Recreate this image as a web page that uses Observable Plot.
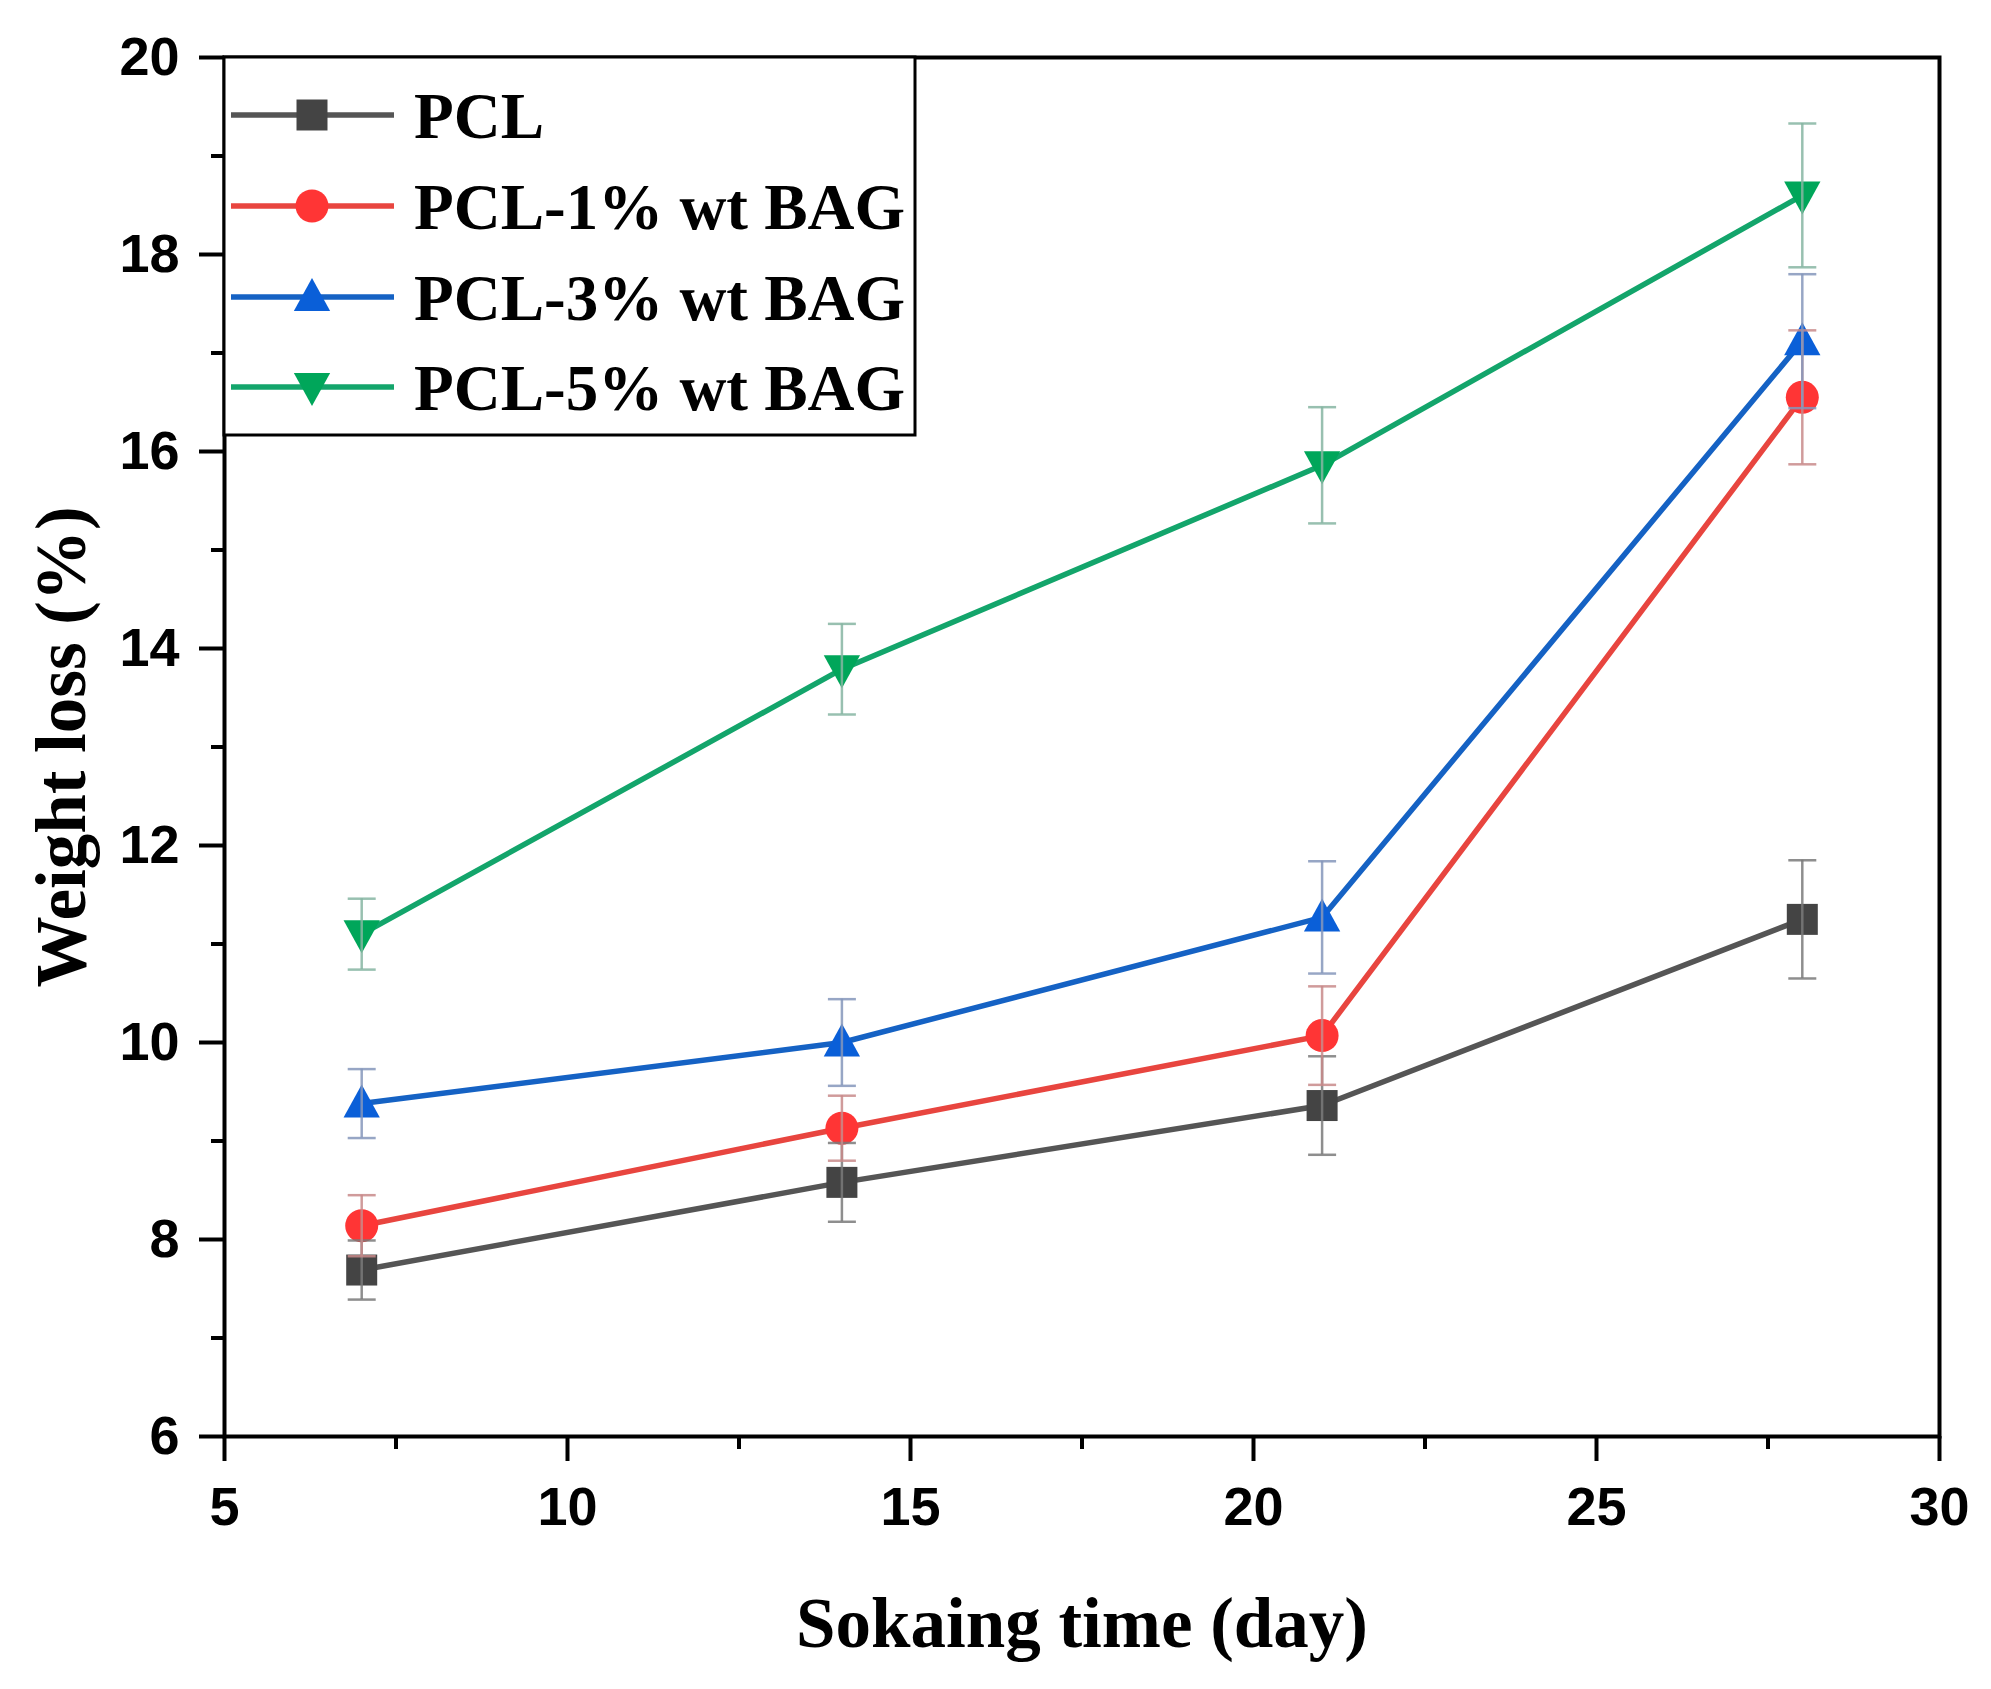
<!DOCTYPE html>
<html><head><meta charset="utf-8">
<script src="https://cdn.jsdelivr.net/npm/d3@7"></script>
<script src="https://cdn.jsdelivr.net/npm/@observablehq/plot@0.6"></script>
<style>
body{margin:0;background:#fff}
#chart{position:relative;width:1991px;height:1689px}
</style>
</head><body><div id="chart"></div>
<script>
// ---- data ----
const days = [7, 14, 21, 28];
const seriesNames = ["PCL", "PCL-1% wt BAG", "PCL-3% wt BAG", "PCL-5% wt BAG"];
const pclValues = [7.69, 8.58, 9.36, 11.25];
const pcl1Values = [8.14, 9.13, 10.07, 16.55];
const pcl3Values = [9.38, 10.00, 11.27, 17.12];
const pcl5Values = [11.10, 13.79, 15.86, 18.60];
const pclErr = [0.30, 0.40, 0.50, 0.60];
const pcl1Err = [0.31, 0.33, 0.50, 0.68];
const pcl3Err = [0.35, 0.44, 0.57, 0.68];
const pcl5Err = [0.36, 0.46, 0.59, 0.73];
const xTicks = [5, 10, 15, 20, 25, 30];
const xMinorTicks = [7.5, 12.5, 17.5, 22.5, 27.5];
const yTicks = [6, 8, 10, 12, 14, 16, 18, 20];
const yMinorTicks = [7, 9, 11, 13, 15, 17, 19];
const xTitle = "Sokaing time (day)";
const yTitle = "Weight loss (%)";

// ---- styles ----
const values = [pclValues, pcl1Values, pcl3Values, pcl5Values];
const errs = [pclErr, pcl1Err, pcl3Err, pcl5Err];
const lineColors = ["#555555", "#e8453f", "#1562c4", "#13a56b"];
const markColors = ["#444444", "#ff3535", "#0a5fd8", "#00a65a"];
const errColors = ["#7a7a7a", "#c88a8a", "#8596bb", "#86b5a2"];

const rad = size => Math.sqrt(size / Math.PI);
const symSquare = {draw(c, size){ const h = rad(size); c.rect(-h, -h, 2*h, 2*h); }};
const symCircle = {draw(c, size){ const r = rad(size); c.moveTo(r, 0); c.arc(0, 0, r, 0, 2*Math.PI); }};
const symTriUp = {draw(c, size){ const r = rad(size); c.moveTo(0, -1.15*r); c.lineTo(1.1*r, 0.85*r); c.lineTo(-1.1*r, 0.85*r); c.closePath(); }};
const symTriDown = {draw(c, size){ const r = rad(size); c.moveTo(0, 1.15*r); c.lineTo(1.1*r, -0.85*r); c.lineTo(-1.1*r, -0.85*r); c.closePath(); }};
const symCap = {draw(c, size){ const r = rad(size); c.moveTo(-r, 0); c.lineTo(r, 0); }};
const symbols = [symSquare, symCircle, symTriUp, symTriDown];
const markR = [15.5, 16.5, 16.5, 16.5];

const rows = seriesNames.map((s, i) => days.map((d, j) => ({series: s, day: d, value: values[i][j], err: errs[i][j]})));

const marks = [];
rows.forEach((data, i) => {
  marks.push(Plot.line(data, {x: "day", y: "value", stroke: lineColors[i], strokeWidth: 5.5}));
});
rows.forEach((data, i) => {
  marks.push(Plot.dot(data, {x: "day", y: "value", symbol: symbols[i], r: markR[i], fill: markColors[i], stroke: "none"}));
});
rows.forEach((data, i) => {
  marks.push(Plot.ruleX(data, {x: "day", y1: d => d.value - d.err, y2: d => d.value + d.err, stroke: errColors[i], strokeWidth: 2.5, strokeOpacity: 0.85}));
  marks.push(Plot.dot(data, {x: "day", y: d => d.value + d.err, symbol: symCap, r: 14, fill: "none", stroke: errColors[i], strokeWidth: 2.5, strokeOpacity: 0.85}));
  marks.push(Plot.dot(data, {x: "day", y: d => d.value - d.err, symbol: symCap, r: 14, fill: "none", stroke: errColors[i], strokeWidth: 2.5, strokeOpacity: 0.85}));
});

const chart = Plot.plot({
  width: 1991,
  height: 1689,
  marginLeft: 224,
  marginRight: 52,
  marginTop: 57,
  marginBottom: 253,
  style: {fontFamily: "Liberation Sans, Arial, sans-serif", background: "#fff", color: "#000"},
  x: {domain: [5, 30]},
  y: {domain: [6, 20]},
  marks: [
    ...marks,
    Plot.frame({stroke: "#000", strokeWidth: 4}),
    Plot.axisX(xTicks, {tickSize: 25, tickPadding: 25, fontSize: 54, fontWeight: "bold", strokeWidth: 4, label: null, tickFormat: d => String(d)}),
    Plot.axisX(xMinorTicks, {tickSize: 13, text: null, strokeWidth: 4, label: null}),
    Plot.axisY(yTicks, {tickSize: 25, tickPadding: 20, fontSize: 54, fontWeight: "bold", strokeWidth: 4, label: null, tickFormat: d => String(d)}),
    Plot.axisY(yMinorTicks, {tickSize: 13, text: null, strokeWidth: 4, label: null}),
    Plot.text([xTitle], {frameAnchor: "bottom", dy: 188, lineAnchor: "middle", textAnchor: "middle", fontSize: 71, fontWeight: "bold", fontFamily: "Liberation Serif, Times New Roman, serif"}),
    Plot.text([yTitle], {frameAnchor: "left", dx: -162, rotate: -90, lineAnchor: "middle", textAnchor: "middle", fontSize: 71, fontWeight: "bold", fontFamily: "Liberation Serif, Times New Roman, serif"})
  ]
});

// ---- legend (inside the frame, top-left) ----
const svg = d3.select(chart);
const lg = svg.append("g");
lg.append("rect").attr("x", 224).attr("y", 57).attr("width", 691).attr("height", 378)
  .attr("fill", "#fff").attr("stroke", "#000").attr("stroke-width", 3);
const rowY = [115, 206, 297, 387];
seriesNames.forEach((s, i) => {
  const y = rowY[i];
  lg.append("line").attr("x1", 231).attr("x2", 394).attr("y1", y).attr("y2", y)
    .attr("stroke", lineColors[i]).attr("stroke-width", 5.5);
  lg.append("path").attr("transform", `translate(312,${y})`)
    .attr("d", d3.symbol(symbols[i], Math.PI * markR[i] * markR[i])())
    .attr("fill", markColors[i]);
  lg.append("text").attr("x", 414).attr("y", y).attr("dy", "0.35em")
    .attr("text-anchor", "start")
    .attr("font-family", "Liberation Serif, Times New Roman, serif")
    .attr("font-weight", "bold").attr("font-size", 65).attr("fill", "#000")
    .text(s);
});

document.getElementById("chart").appendChild(chart);
</script>
</body></html>
